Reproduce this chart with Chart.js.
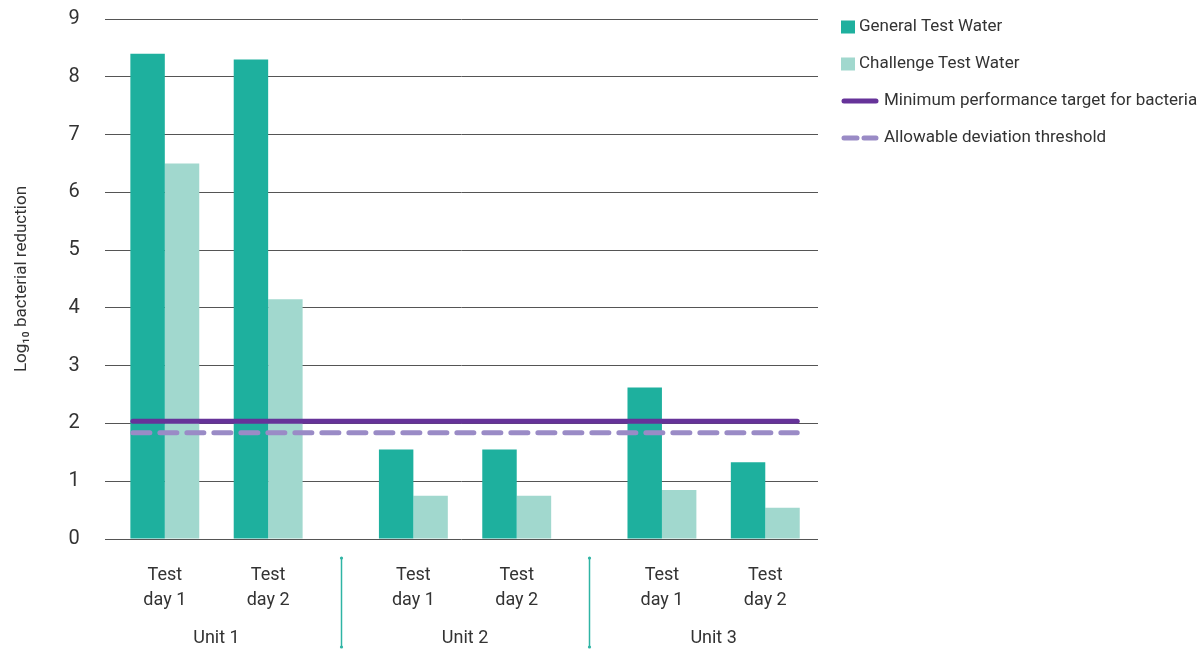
<!DOCTYPE html>
<html>
<head>
<meta charset="utf-8">
<script src="https://cdn.jsdelivr.net/npm/chart.js@4.4.1/dist/chart.umd.min.js"></script>
<style>
  html, body { margin: 0; padding: 0; background: #fff; }
  #wrap { width: 1203px; height: 650px; }
</style>
</head>
<body>
<div id="wrap"><canvas id="myBarChart"></canvas></div>
<script>
// Units on the x axis and the two test days inside each unit
var units = ["Unit 1", "Unit 2", "Unit 3"];
var testDayLabels = [["Test", "day 1"], ["Test", "day 2"]];

// Log10 bacterial reduction per unit
var generalDay1 = [8.4, 1.55, 2.62];
var challengeDay1 = [6.5, 0.75, 0.85];
var generalDay2 = [8.3, 1.55, 1.33];
var challengeDay2 = [4.15, 0.75, 0.54];

// Horizontal reference levels
var minTarget = 2.04;
var deviationThreshold = 1.84;

// y axis ticks 0..9
var yMin = 0;
var yMax = 9;
var yStep = 1;

var FONT = "Roboto, sans-serif";
var TEXT = "#333333";
var GENERAL = "#1eb09e";
var CHALLENGE = "#a1d8ce";
var TARGET = "#663399";
var DEVIATION = "#9a8bc6";
var DIVIDER = "#2fb4a4";

Chart.defaults.font.family = FONT;
Chart.defaults.color = TEXT;

// one empty dataset keeps a gap between test day 1 and test day 2
var datasets = [
  { label: "General Test Water", data: generalDay1, backgroundColor: GENERAL },
  { label: "Challenge Test Water", data: challengeDay1, backgroundColor: CHALLENGE },
  { label: "", data: units.map(function () { return null; }) },
  { label: "General Test Water", data: generalDay2, backgroundColor: GENERAL },
  { label: "Challenge Test Water", data: challengeDay2, backgroundColor: CHALLENGE },
];
var dayPairs = [[0, 1], [3, 4]];

var refLines = [
  { label: "Minimum performance target for bacteria", value: minTarget, color: TARGET, dash: [] },
  { label: "Allowable deviation threshold", value: deviationThreshold, color: DEVIATION, dash: [17, 10] },
];

var legendItems = [
  { text: "General Test Water", box: GENERAL },
  { text: "Challenge Test Water", box: CHALLENGE },
  { text: refLines[0].label, line: TARGET, dash: [] },
  { text: refLines[1].label, line: DEVIATION, dash: [13, 7] },
];

var extras = {
  id: "extras",
  afterDatasetsDraw: function (chart) {
    var ctx = chart.ctx;
    var y = chart.scales.y;
    var first = chart.getDatasetMeta(0).data[0];
    var last = chart.getDatasetMeta(datasets.length - 1).data[units.length - 1];
    var x0 = first.x - first.width / 2 + 2.5;
    var x1 = last.x + last.width / 2 - 2.5;
    ctx.save();
    ctx.lineWidth = 5;
    ctx.lineCap = "round";
    // dashed one first so the solid target sits on top
    for (var i = refLines.length - 1; i >= 0; i--) {
      var py = y.getPixelForValue(refLines[i].value);
      ctx.strokeStyle = refLines[i].color;
      ctx.setLineDash(refLines[i].dash);
      ctx.beginPath();
      ctx.moveTo(x0, py);
      ctx.lineTo(x1, py);
      ctx.stroke();
    }
    ctx.restore();
  },
  afterDraw: function (chart) {
    var ctx = chart.ctx;
    var area = chart.chartArea;
    var xs = chart.scales.x;
    ctx.save();

    // "Test day N" labels under each pair of bars
    ctx.font = "18px " + FONT;
    ctx.fillStyle = TEXT;
    ctx.textAlign = "center";
    ctx.textBaseline = "middle";
    for (var u = 0; u < units.length; u++) {
      dayPairs.forEach(function (pair, d) {
        var a = chart.getDatasetMeta(pair[0]).data[u];
        var b = chart.getDatasetMeta(pair[1]).data[u];
        var cx = (a.x + b.x) / 2;
        ctx.fillText(testDayLabels[d][0], cx, area.bottom + 36);
        ctx.fillText(testDayLabels[d][1], cx, area.bottom + 61);
      });
    }

    // thin dividers between units
    ctx.strokeStyle = DIVIDER;
    ctx.fillStyle = DIVIDER;
    ctx.lineWidth = 1.5;
    for (var k = 0; k < units.length - 1; k++) {
      var dx = Math.round(xs.getPixelForValue(k + 0.5)) + 0.5;
      var top = area.bottom + 19;
      var bot = area.bottom + 108;
      ctx.beginPath();
      ctx.moveTo(dx, top);
      ctx.lineTo(dx, bot);
      ctx.stroke();
      [top, bot].forEach(function (py) {
        ctx.beginPath();
        ctx.arc(dx, py, 1.6, 0, Math.PI * 2);
        ctx.fill();
      });
    }

    // legend on the right
    var lx = area.right + 23;
    var ly = area.top + 8;
    ctx.font = "17px " + FONT;
    ctx.textAlign = "left";
    ctx.lineCap = "round";
    legendItems.forEach(function (item, i) {
      var cy = ly + i * 37;
      var tx;
      if (item.box) {
        ctx.fillStyle = item.box;
        ctx.fillRect(lx, cy - 6.5, 14, 13);
        tx = lx + 18;
      } else {
        ctx.strokeStyle = item.line;
        ctx.lineWidth = 5;
        ctx.setLineDash(item.dash);
        ctx.beginPath();
        ctx.moveTo(lx + 3, cy);
        ctx.lineTo(lx + 35, cy);
        ctx.stroke();
        ctx.setLineDash([]);
        tx = lx + 43;
      }
      ctx.fillStyle = TEXT;
      ctx.fillText(item.text, tx, cy);
    });
    ctx.restore();
  },
};

var ctx = document.getElementById("myBarChart").getContext("2d");
var myBarChart = new Chart(ctx, {
  type: "bar",
  data: {
    labels: units.map(function (u, i) { return i; }),
    datasets: datasets,
  },
  options: {
    responsive: true,
    maintainAspectRatio: false,
    animation: false,
    layout: { padding: { left: 8, right: 385, top: 19, bottom: 0 } },
    datasets: { bar: { categoryPercentage: 0.693, barPercentage: 1 } },
    plugins: {
      legend: { display: false },
      tooltip: { enabled: false },
    },
    scales: {
      x: {
        type: "linear",
        offset: false,
        min: -0.45,
        max: 2.42,
        grid: {
          display: true,
          drawOnChartArea: false,
          drawTicks: true,
          tickLength: 87,
          color: "transparent",
        },
        border: { display: false },
        afterBuildTicks: function (axis) {
          axis.ticks = units.map(function (u, i) { return { value: i }; });
        },
        ticks: {
          callback: function (v) { return units[v]; },
          autoSkip: false,
          maxRotation: 0,
          padding: 3,
          font: { size: 18, lineHeight: 1 },
          color: TEXT,
        },
      },
      y: {
        min: yMin,
        max: yMax,
        grid: { color: "#555555", drawTicks: true, tickLength: 22, tickColor: "transparent" },
        border: { display: false },
        ticks: { stepSize: yStep, padding: 3, font: { size: 20 }, color: TEXT },
        title: {
          display: true,
          text: "Log\u2081\u2080 bacterial reduction",
          font: { size: 17 },
          color: TEXT,
          padding: { top: 4, bottom: 33 },
        },
      },
    },
  },
  plugins: [extras],
});
</script>
</body>
</html>
